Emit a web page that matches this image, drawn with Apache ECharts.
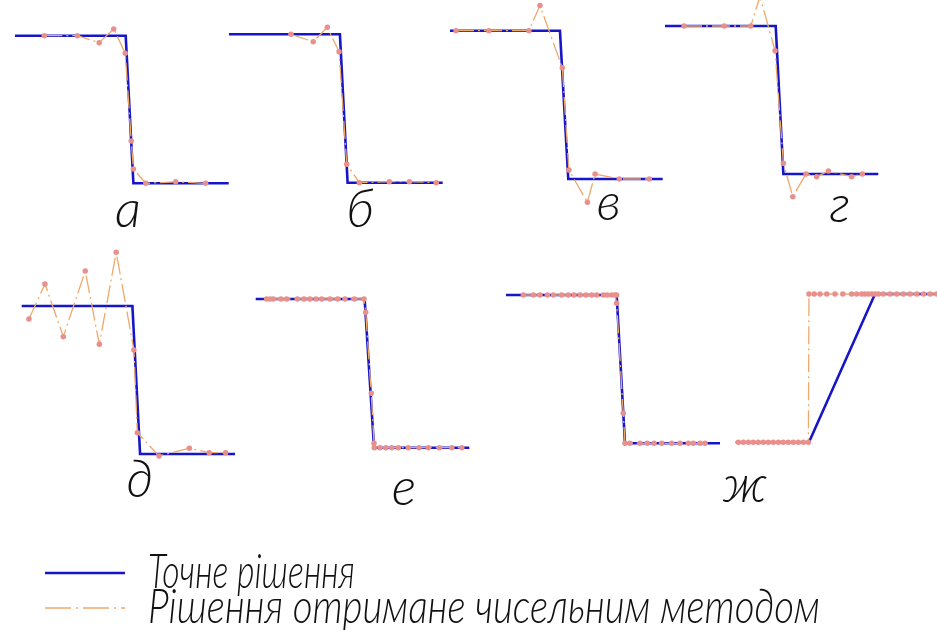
<!DOCTYPE html>
<html>
<head>
<meta charset="utf-8">
<script src="https://cdn.jsdelivr.net/npm/echarts@6/dist/echarts.min.js"></script>
<style>
html, body { margin: 0; padding: 0; background: #ffffff; }
#chart { width: 937px; height: 630px; }
</style>
</head>
<body>
<div id="chart"></div>
<script>
// Exact (step) solutions and numerical solutions, x in 0..10, y: 1 = upper level, 0 = lower level
const exactA = [[0, 1], [5.18, 1], [5.54, 0], [10, 0]];
const numA = [[1.37, 1], [2.92, 1], [3.94, 0.953], [4.62, 1.045], [5.16, 0.881], [5.44, 0.287], [5.54, 0.097], [6.12, 0], [7.52, 0.01], [8.92, 0]];

const exactB = [[0, 1], [5.19, 1], [5.55, 0], [10, 0]];
const numB = [[2.90, 1], [3.94, 0.95], [4.60, 1.047], [5.15, 0.883], [5.51, 0.124], [6.10, 0], [7.50, 0.007], [8.44, 0.007], [9.7, 0]];

const exactV = [[0, 1], [5.17, 1], [5.56, 0], [10, 0]];
const numV = [[0.28, 1], [1.83, 1], [3.71, 1], [4.23, 1.17], [5.28, 0.751], [5.59, 0.061], [6.46, -0.157], [6.82, 0.034], [7.96, 0], [9.37, 0]];

const exactG = [[0, 1], [5.19, 1], [5.55, 0], [10, 0]];
const numG = [[0.89, 1], [2.78, 1], [4.02, 1], [4.45, 1.2], [5.16, 0.833], [5.55, 0.072], [5.99, -0.153], [6.61, 0], [7.11, -0.018], [7.66, 0.02], [8.75, -0.018], [9.25, 0]];

const exactD = [[0, 1], [5.19, 1], [5.55, 0], [10, 0]];
const numD = [[0.34, 0.912], [1.09, 1.149], [1.95, 0.793], [2.98, 1.236], [3.64, 0.741], [4.43, 1.363], [5.26, 0.703], [5.42, 0.144], [6.44, -0.014], [7.86, 0.039], [8.79, 0.009], [9.56, 0.009]];

const exactE = [[0, 1], [5.10, 1], [5.54, 0], [10, 0]];
const numE = [[0.51, 1], [0.67, 1], [0.82, 1], [1.18, 1], [1.45, 1], [1.95, 1], [2.26, 1], [2.54, 1], [2.82, 1], [3.09, 1], [3.48, 1], [3.84, 1], [4.18, 1], [4.62, 1], [5.07, 1],
  [5.15, 0.911], [5.41, 0.366], [5.54, 0.03],
  [5.55, 0], [5.82, 0], [6.09, 0], [6.37, 0], [6.68, 0], [7.14, 0], [7.65, 0], [8.08, 0], [8.60, 0], [9.18, 0], [9.65, 0]];

const exactZh1 = [[0, 1], [5.17, 1], [5.56, 0], [10, 0]];
const numZh1 = [[0.81, 1], [1.28, 1], [1.59, 1], [1.93, 1], [2.21, 1], [2.60, 1], [2.91, 1], [3.18, 1], [3.46, 1], [3.74, 1], [4.00, 1], [4.24, 1], [4.55, 1], [4.73, 1], [4.94, 1], [5.09, 1], [5.17, 1],
  [5.17, 0.944], [5.48, 0.202], [5.56, 0],
  [5.79, 0], [6.26, 0], [6.60, 0], [6.92, 0], [7.28, 0], [7.74, 0], [8.13, 0], [8.52, 0], [8.75, 0], [9.07, 0], [9.30, 0]];

const exactZh2 = [[0, 0], [3.64, 0], [6.92, 1], [10, 1]];
const numZh2 = [[0.13, 0], [0.38, 0], [0.63, 0], [0.87, 0], [1.12, 0], [1.37, 0], [1.62, 0], [1.87, 0], [2.12, 0], [2.36, 0], [2.61, 0], [2.86, 0], [3.11, 0], [3.36, 0], [3.61, 0],
  [3.64, 1], [3.90, 1], [4.19, 1], [4.52, 1], [4.93, 1], [5.32, 1], [5.76, 1], [6.01, 1], [6.26, 1], [6.42, 1], [6.59, 1], [6.76, 1], [6.92, 1], [7.09, 1], [7.33, 1], [7.67, 1], [8.00, 1], [8.33, 1], [8.66, 1], [9.00, 1], [9.33, 1], [9.66, 1], [9.99, 1]];

const panelLetters = ['а', 'б', 'в', 'г', 'д', 'е', 'ж'];
const legendLabels = ['Точне рішення', 'Рішення отримане чисельним методом'];

// Plot boxes of the panels (pixels), each mapping x 0..10 and y 0..1
const panels = [
  { box: { left: 15, top: 35.7, width: 213.7, height: 147.6 }, exact: exactA, num: numA },
  { box: { left: 229, top: 34.3, width: 213.7, height: 148.4 }, exact: exactB, num: numB },
  { box: { left: 450, top: 30.7, width: 212.7, height: 148.3 }, exact: exactV, num: numV },
  { box: { left: 665, top: 26, width: 213.3, height: 148 }, exact: exactG, num: numG },
  { box: { left: 21.7, top: 306, width: 213.3, height: 148 }, exact: exactD, num: numD },
  { box: { left: 255.7, top: 299, width: 213.6, height: 148.7 }, exact: exactE, num: numE },
  { box: { left: 506, top: 295, width: 214, height: 148.3 }, exact: exactZh1, num: numZh1 },
  { box: { left: 735.7, top: 294, width: 201.3, height: 148.3 }, exact: exactZh2, num: numZh2 }
];

// Where the panel letters sit
const letterPos = [[128, 210], [360, 210], [609, 203], [840, 205], [140, 480], [404, 488], [745, 485]];

const BLUE = '#1616c8';
const ORANGE = '#efa86c';
const PINK = '#e98f8c';
const DASH_DOT = [18, 4, 2, 4];
const FONT_FAMILY = 'Lato, "Open Sans", "DejaVu Sans", sans-serif';

const grids = [], xAxes = [], yAxes = [], series = [];
panels.forEach((p, i) => {
  grids.push(Object.assign({ containLabel: false }, p.box));
  xAxes.push({ gridIndex: i, type: 'value', min: 0, max: 10, show: false });
  yAxes.push({ gridIndex: i, type: 'value', min: 0, max: 1, show: false });
  series.push({
    name: legendLabels[0], type: 'line', xAxisIndex: i, yAxisIndex: i,
    data: p.exact, symbol: 'none', clip: false, silent: true, z: 2,
    lineStyle: { color: BLUE, width: 2.6, join: 'miter' }
  });
  series.push({
    name: legendLabels[1], type: 'line', xAxisIndex: i, yAxisIndex: i,
    data: p.num, symbol: 'circle', symbolSize: 5.5, showAllSymbol: true, clip: false, silent: true, z: 3,
    itemStyle: { color: PINK },
    lineStyle: { color: ORANGE, width: 1.3, type: DASH_DOT }
  });
});

// Condense legend text to the widths it occupies
const measureCtx = document.createElement('canvas').getContext('2d');
function fitScale(text, size, target) {
  measureCtx.font = 'italic 300 ' + size + 'px ' + FONT_FAMILY;
  return target / measureCtx.measureText(text).width;
}

const LEG_SIZE = 44;
const graphic = [];
letterPos.forEach((pos, i) => {
  graphic.push({
    type: 'text', x: pos[0], y: pos[1], silent: true,
    style: {
      text: panelLetters[i], fontSize: 52, fontStyle: 'italic', fontWeight: 300,
      fontFamily: FONT_FAMILY, fill: '#111', align: 'center', verticalAlign: 'middle'
    }
  });
});
graphic.push(
  { type: 'line', shape: { x1: 45, y1: 573, x2: 125, y2: 573 }, style: { stroke: BLUE, lineWidth: 2.4 }, silent: true },
  { type: 'line', shape: { x1: 45, y1: 608, x2: 125, y2: 608 }, style: { stroke: ORANGE, lineWidth: 1.3, lineDash: [26, 5, 2, 5] }, silent: true },
  {
    type: 'text', x: 148, y: 573, scaleX: fitScale(legendLabels[0], LEG_SIZE, 207), scaleY: 1.08, silent: true,
    style: { text: legendLabels[0], fontSize: LEG_SIZE, fontStyle: 'italic', fontWeight: 300, fontFamily: FONT_FAMILY, fill: '#111', align: 'left', verticalAlign: 'middle' }
  },
  {
    type: 'text', x: 148, y: 608, scaleX: fitScale(legendLabels[1], LEG_SIZE, 672), scaleY: 1.08, silent: true,
    style: { text: legendLabels[1], fontSize: LEG_SIZE, fontStyle: 'italic', fontWeight: 300, fontFamily: FONT_FAMILY, fill: '#111', align: 'left', verticalAlign: 'middle' }
  }
);

const chart = echarts.init(document.getElementById('chart'), null, { renderer: 'canvas' });
chart.setOption({
  backgroundColor: '#ffffff',
  animation: false,
  grid: grids,
  xAxis: xAxes,
  yAxis: yAxes,
  series: series,
  graphic: graphic
});
</script>
</body>
</html>
